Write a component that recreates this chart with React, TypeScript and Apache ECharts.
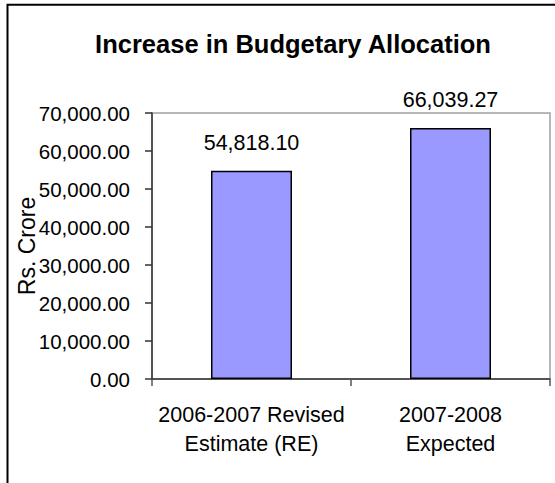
import React, { useEffect, useRef } from "react";
import * as echarts from "echarts";

const categories = ["2006-2007 Revised\nEstimate (RE)", "2007-2008\nExpected"];
const values = [54818.1, 66039.27];
const yTicks = { min: 0, max: 70000, interval: 10000 };
const titleText = "Increase in Budgetary Allocation";
const yName = "Rs. Crore";

const fmt = (v: number) => {
  const [i, d] = v.toFixed(2).split(".");
  return i.replace(/\B(?=(\d{3})+(?!\d))/g, ",") + "." + d;
};

const FONT = "'Liberation Sans', Arial, sans-serif";

export default function App() {
  const ref = useRef<HTMLDivElement>(null);
  useEffect(() => {
    if (!ref.current) return;
    const chart = echarts.init(ref.current, undefined, { renderer: "svg" });
    chart.setOption({
      animation: false,
      backgroundColor: "#ffffff",
      textStyle: { fontFamily: FONT },
      title: {
        text: titleText,
        left: 288,
        top: 26,
        textAlign: "center",
        textStyle: { fontFamily: FONT, fontSize: 25.5, fontWeight: "bold", color: "#000" },
      },
      graphic: [
        {
          type: "rect",
          shape: { x: 7.5, y: 4.8, width: 700, height: 700 },
          style: { fill: "none", stroke: "#000", lineWidth: 2 },
          silent: true,
        },
      ],
      grid: {
        left: 152,
        top: 113,
        right: 5,
        bottom: 104,
        containLabel: false,
        outerBoundsMode: "none",
        show: true,
        borderColor: "#a0a0a0",
        borderWidth: 1.5,
        backgroundColor: "transparent",
      },
      xAxis: {
        type: "category",
        data: categories,
        axisLine: { lineStyle: { color: "#333", width: 1.5 } },
        axisTick: { show: true, length: 7, alignWithLabel: false, lineStyle: { color: "#555", width: 1.5 } },
        axisLabel: {
          color: "#000",
          fontSize: 21.5,
          fontFamily: FONT,
          lineHeight: 29,
          margin: 21,
          interval: 0,
        },
      },
      yAxis: {
        type: "value",
        min: yTicks.min,
        max: yTicks.max,
        interval: yTicks.interval,
        name: yName,
        nameLocation: "middle",
        nameRotate: 90,
        nameGap: 114,
        nameMoveOverlap: false,
        nameTextStyle: { color: "#000", fontSize: 23, fontFamily: FONT },
        axisLine: { show: true, lineStyle: { color: "#333", width: 1.5 } },
        axisTick: { show: true, length: 7, lineStyle: { color: "#333", width: 1.5 } },
        splitLine: { show: false },
        axisLabel: {
          color: "#000",
          fontSize: 20.5,
          fontFamily: FONT,
          margin: 22,
          formatter: (v: number) => fmt(v),
        },
      },
      series: [
        {
          type: "bar",
          data: values,
          barWidth: 81,
          itemStyle: { color: "#9999ff", borderColor: "#000", borderWidth: 1.5 },
          label: {
            show: true,
            position: "top",
            distance: 17,
            color: "#000",
            fontSize: 21.5,
            fontFamily: FONT,
            formatter: (p: any) => fmt(p.value),
          },
        },
      ],
    });
    return () => chart.dispose();
  }, []);
  return (
    <div
      ref={ref}
      style={{ position: "absolute", left: 0, top: 0, width: 555, height: 483, background: "#fff" }}
    />
  );
}
